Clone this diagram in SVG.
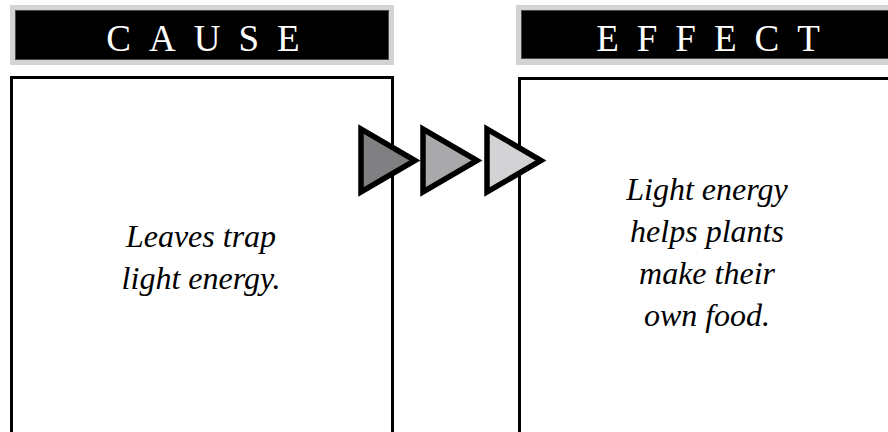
<svg xmlns="http://www.w3.org/2000/svg" width="888" height="432" viewBox="0 0 888 432">
<style>
.hdr-out{fill:#d3d3d5}
.hdr-in{fill:#000;stroke:#4a4a4a;stroke-width:1}
.box{fill:#fff;stroke:#000;stroke-width:3}
.hdr-text{font-family:"Liberation Serif","Times New Roman",serif;font-size:37px;fill:#fff;letter-spacing:18px;text-anchor:middle}
.body{font-family:"Liberation Serif","Times New Roman",serif;font-style:italic;font-size:32px;fill:#000;text-anchor:middle}
.tri{stroke:#000;stroke-width:5.5;stroke-linejoin:miter;stroke-miterlimit:10}
</style>
<rect width="888" height="432" fill="#fff"/>
<g id="cause">
  <rect class="hdr-out" x="10" y="5" width="384" height="60"/>
  <rect class="hdr-in" x="15.5" y="10.5" width="373" height="49"/>
  <text class="hdr-text" x="212" y="51">CAUSE</text>
  <rect class="box" x="11.5" y="77.5" width="381" height="380"/>
  <text class="body" x="201" y="247">Leaves trap</text>
  <text class="body" x="201" y="289">light energy.</text>
</g>
<g id="effect">
  <rect class="hdr-out" x="516" y="5" width="380" height="60"/>
  <rect class="hdr-in" x="521.5" y="10.5" width="380" height="48"/>
  <text class="hdr-text" x="717" y="51">EFFECT</text>
  <rect class="box" x="519.5" y="78.5" width="400" height="380"/>
  <text class="body" x="707" y="200">Light energy</text>
  <text class="body" x="707" y="242">helps plants</text>
  <text class="body" x="707" y="284">make their</text>
  <text class="body" x="707" y="326">own food.</text>
</g>
<g id="connectors">
  <polygon class="tri" fill="#808083" points="361,129 361,192 415,160.5"/>
  <polygon class="tri" fill="#a9a9ac" points="423,129 423,192 477,160.5"/>
  <polygon class="tri" fill="#d3d3d5" points="487,129 487,192 541,160.5"/>
</g>
</svg>
